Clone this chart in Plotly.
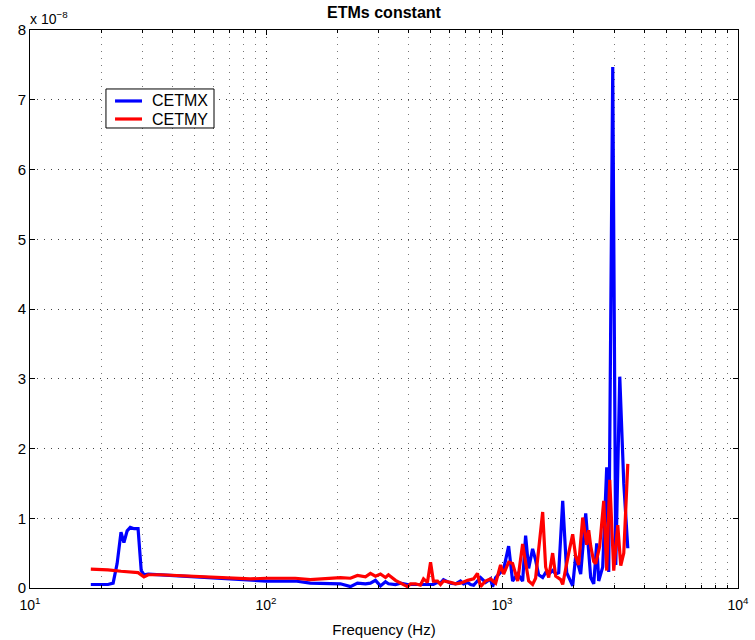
import plotly.graph_objects as go

SCALE = 1e-8

freq_x = [18.1, 19.8, 21.4, 22.5, 23.4, 24.3, 25.0, 25.8, 26.6, 27.6, 28.7, 29.6, 30.4, 31.7,
          35.6, 41.2, 47.7, 55.3, 64.0, 74.1, 85.8, 100, 115, 133, 154, 178.5, 206.7, 227.9,
          244, 263.9, 277, 290.9, 305.5, 320.8, 330.3, 353.7, 371.4, 397.7, 409.5, 430, 451.4,
          465, 483, 498, 512, 533, 549, 565, 588, 605, 636, 667, 687, 715, 736, 758, 811, 852,
          894, 912, 940, 1016, 1067, 1109, 1165, 1223, 1259, 1297, 1348, 1388, 1430, 1487, 1531,
          1577, 1639, 1689, 1739, 1808, 1880, 1917, 1993, 2053, 2113, 2155, 2263, 2376, 2447,
          2520, 2569, 2671, 2778, 2833, 2946, 3034, 3155, 3281, 3412]
cetmx = [0.05, 0.05, 0.05, 0.07, 0.35, 0.80, 0.65, 0.82, 0.87, 0.85, 0.85, 0.25, 0.19, 0.20,
         0.19, 0.18, 0.17, 0.15, 0.14, 0.13, 0.12, 0.10, 0.10, 0.10, 0.07, 0.07, 0.06, 0.02,
         0.07, 0.06, 0.07, 0.11, 0.03, 0.09, 0.06, 0.05, 0.07, 0.05, 0.05, 0.04, 0.05,
         0.04, 0.05, 0.04, 0.05, 0.08, 0.07, 0.12, 0.09, 0.07, 0.06, 0.10, 0.06, 0.08, 0.05, 0.04, 0.15, 0.08,
         0.13, 0.02, 0.15, 0.27, 0.60, 0.10, 0.20, 0.10, 0.75, 0.28, 0.56, 0.40, 0.19, 0.15, 0.22,
         0.20, 0.25, 0.20, 0.22, 1.25, 0.22, 0.15, 0.03, 0.46, 0.30, 0.20, 1.07, 0.15, 0.06,
         0.64, 0.10, 0.30, 1.73, 0.23, 7.47, 0.33, 3.03, 1.50, 0.57]

freq_y = [18.1, 21.4, 24.3, 27.6, 28.7, 30.4, 31.7, 35.6, 41.2, 47.7, 55.3, 64.0, 74.1, 85.8,
          100, 115, 133, 154, 178.5, 206.7, 227.9, 244, 263.9, 277, 290.9, 305.5, 320.8, 330.3,
          353.7, 371.4, 397.7, 409.5, 430, 451, 465, 483, 498, 512, 533, 549, 565, 605, 636, 667,
          715, 758, 787, 811, 852, 894, 940, 986, 1016, 1067, 1109, 1165, 1223, 1297, 1348, 1388,
          1487, 1531, 1577, 1639, 1689, 1773, 1808, 1917, 1993, 2053, 2113, 2198, 2285, 2330,
          2376, 2447, 2495, 2594, 2698, 2778, 2861, 2975, 3094, 3186, 3281, 3412]
cetmy = [0.27, 0.26, 0.24, 0.23, 0.22, 0.16, 0.19, 0.19, 0.18, 0.17, 0.16, 0.15, 0.15, 0.13,
         0.14, 0.14, 0.14, 0.12, 0.14, 0.15, 0.14, 0.18, 0.16, 0.21, 0.17, 0.20, 0.15, 0.19,
         0.11, 0.07, 0.02, 0.06, 0.06, 0.04, 0.13, 0.08, 0.37, 0.10, 0.10, 0.05, 0.10, 0.08, 0.06, 0.07,
         0.11, 0.13, 0.21, 0.02, 0.10, 0.13, 0.07, 0.33, 0.20, 0.37, 0.35, 0.10, 0.63, 0.10, 0.05, 0.14,
         1.09, 0.30, 0.15, 0.50, 0.17, 0.12, 0.05, 0.50, 0.77, 0.45, 0.33, 1.01, 0.62, 0.83,
         0.60, 0.38, 0.35, 0.60, 1.25, 0.25, 1.55, 0.25, 0.90, 0.32, 0.50, 1.78]

series_names = ["CETMX", "CETMY"]
series_colors = ["#0000ff", "#ff0000"]

x_major = [10, 100, 1000, 10000]
x_major_text = ["10<sup>1</sup>", "10<sup>2</sup>", "10<sup>3</sup>", "10<sup>4</sup>"]
x_minor = [m * d for d in (10, 100, 1000) for m in range(2, 10)]
y_ticks = list(range(0, 9))

fig = go.Figure()
for f, vals, name, col in zip((freq_x, freq_y), (cetmx, cetmy), series_names, series_colors):
    fig.add_trace(go.Scatter(x=f, y=[v * SCALE for v in vals], mode="lines", name=name,
                             line=dict(color=col, width=3.2), showlegend=False))

font = "Liberation Sans, Arial, sans-serif"
grid_dash = "1px,6px"
fig.update_layout(
    width=755, height=640,
    margin=dict(l=30, r=17, t=30, b=52, autoexpand=False),
    paper_bgcolor="white", plot_bgcolor="white",
    font=dict(family=font, size=14, color="black"),
    title=dict(text="<b>ETMs constant</b>", x=(30 + 738) / 2 / 755, xanchor="center",
               y=1 - 12 / 640, yanchor="middle", font=dict(size=16, family=font)),
    showlegend=False,
)
fig.update_xaxes(
    type="log", range=[1, 4], tickvals=x_major, ticktext=x_major_text, automargin=False,
    ticks="inside", ticklen=5, tickcolor="black", showline=True, linecolor="black",
    linewidth=1, mirror="ticks", showgrid=True, gridcolor="#444444", griddash=grid_dash,
    gridwidth=1, zeroline=False, tickfont=dict(size=14), ticklabelstandoff=4,
    title=dict(text="Frequency (Hz)", font=dict(size=15), standoff=12),
    minor=dict(tickvals=x_minor, ticks="inside", ticklen=3, tickcolor="black",
               showgrid=True, gridcolor="#777777", griddash=grid_dash, gridwidth=1),
)
fig.update_yaxes(
    range=[0, 8 * SCALE], tickvals=[t * SCALE for t in y_ticks], ticktext=[str(t) for t in y_ticks],
    automargin=False,
    ticks="inside", ticklen=5, tickcolor="black", showline=True, linecolor="black",
    linewidth=1, mirror="ticks", showgrid=True, gridcolor="#444444", griddash=grid_dash,
    gridwidth=1, zeroline=False, tickfont=dict(size=15),
)
fig.add_annotation(xref="paper", yref="paper", x=-0.003, y=1.0, xanchor="left", yanchor="bottom",
                   text="x 10<sup>\u22128</sup>", showarrow=False, font=dict(size=14, family=font),
                   yshift=1)

# legend box (paper coordinates)
fig.add_shape(type="rect", xref="paper", yref="paper", x0=0.1073, x1=0.2599, y0=0.8244, y1=0.8943,
              line=dict(color="black", width=1), fillcolor="white", layer="above")
for i, (name, col) in enumerate(zip(series_names, series_colors)):
    yy = 0.8728 - i * 0.0323
    fig.add_shape(type="line", xref="paper", yref="paper", x0=0.1201, x1=0.1582, y0=yy, y1=yy,
                  line=dict(color=col, width=3.2), layer="above")
    fig.add_annotation(xref="paper", yref="paper", x=0.1695, y=yy, xanchor="left", yanchor="middle",
                       text=name, showarrow=False, font=dict(size=16, family=font))
fig.write_html("out.html")
